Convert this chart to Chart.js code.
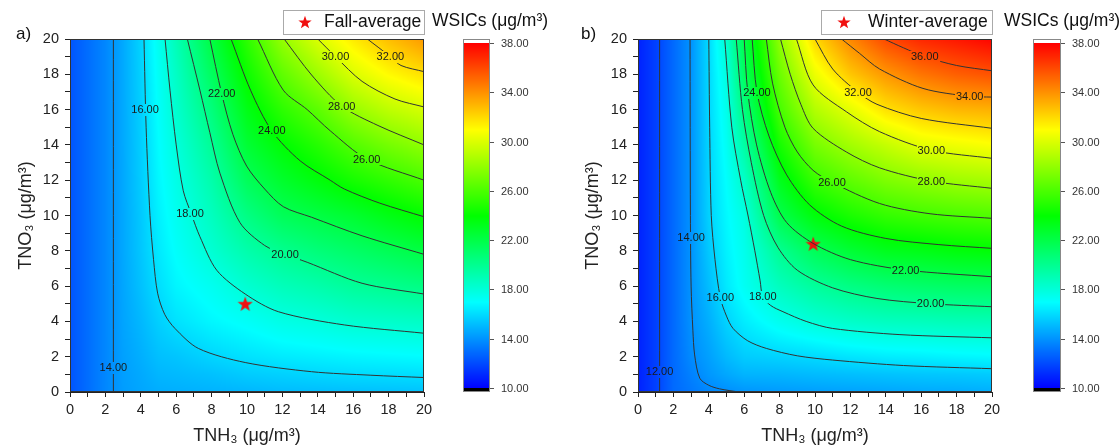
<!DOCTYPE html>
<html>
<head>
<meta charset="utf-8">
<script src="https://cdn.jsdelivr.net/npm/chart.js@4.4.1/dist/chart.umd.min.js"></script>
<style>
  html, body { margin: 0; padding: 0; background: #fff; }
  #wrap { position: relative; width: 1120px; height: 447px; overflow: hidden; }
  .pane { position: absolute; top: 0; width: 560px; height: 447px; }
</style>
</head>
<body>
<div id="wrap">
  <div class="pane" style="left:0"><canvas id="fallChart" width="560" height="447"></canvas></div>
  <div class="pane" style="left:560px"><canvas id="winterChart" width="560" height="447"></canvas></div>
</div>
<script>
var gridX = [0, 1, 2, 3, 4, 5, 6, 8, 10, 12, 14, 16, 18, 20];
var gridY = [0, 1, 2, 4, 6, 8, 10, 12, 14, 16, 18, 20];

// fall: one column per gridX value, values going up gridY
var fallZ = [
  [12.3, 12.3, 12.3, 12.3, 12.3, 12.3, 12.3, 12.3, 12.3, 12.3, 12.3, 12.3],
  [13.0, 13.0, 13.0, 13.0, 13.0, 13.0, 13.0, 13.0, 13.0, 13.0, 13.0, 13.0],
  [13.7, 13.7, 13.7, 13.7, 13.7, 13.7, 13.7, 13.7, 13.7, 13.7, 13.7, 13.7],
  [14.3, 14.35, 14.4, 14.5, 14.55, 14.6, 14.6, 14.62, 14.63, 14.64, 14.65, 14.65],
  [14.55, 14.65, 14.8, 15.05, 15.3, 15.45, 15.5, 15.6, 15.65, 15.7, 15.75, 15.8],
  [14.75, 15.0, 15.25, 15.7, 16.1, 16.4, 16.6, 16.8, 16.95, 17.1, 17.25, 17.4],
  [14.8, 15.1, 15.4, 16.2, 16.75, 17.1, 17.4, 17.65, 17.95, 18.3, 18.6, 19.0],
  [14.9, 15.3, 15.85, 16.8, 17.4, 18.2, 18.75, 19.3, 19.9, 20.6, 21.4, 22.2],
  [15.0, 15.6, 16.2, 17.2, 18.25, 19.3, 20.4, 21.55, 22.55, 23.4, 24.3, 25.2],
  [15.15, 15.75, 16.45, 17.7, 18.9, 20.1, 21.6, 22.8, 23.9, 25.2, 26.6, 28.1],
  [15.2, 15.9, 16.6, 17.95, 19.3, 20.7, 22.15, 23.7, 25.0, 26.5, 28.3, 30.0],
  [15.25, 16.03, 16.75, 18.3, 19.8, 21.2, 22.7, 24.6, 26.25, 28.15, 30.0, 31.55],
  [15.3, 16.08, 16.85, 18.45, 20.1, 21.7, 23.45, 25.3, 27.2, 29.2, 31.1, 32.8],
  [15.35, 16.15, 16.95, 18.6, 20.4, 22.2, 24.05, 26.0, 27.95, 29.85, 31.85, 33.8]
];

var winterZ = [
  [10.9, 10.9, 10.9, 10.9, 10.9, 10.9, 10.9, 10.9, 10.9, 10.9, 10.9, 10.9],
  [11.75, 11.75, 11.75, 11.75, 11.75, 11.75, 11.75, 11.75, 11.75, 11.75, 11.75, 11.75],
  [12.9, 12.9, 12.9, 12.9, 12.9, 12.9, 12.9, 12.9, 12.9, 12.9, 12.9, 12.9],
  [13.3, 13.55, 13.8, 14.0, 14.05, 14.05, 14.05, 14.05, 14.05, 14.05, 14.05, 14.05],
  [13.7, 14.15, 14.4, 14.8, 15.2, 15.5, 15.75, 15.8, 15.85, 15.9, 15.95, 16.0],
  [13.9, 14.6, 15.1, 15.8, 16.4, 16.65, 16.85, 17.05, 17.3, 17.55, 17.85, 18.3],
  [14.1, 14.95, 15.6, 16.5, 17.3, 17.5, 17.8, 18.5, 19.5, 20.5, 21.4, 22.0],
  [14.25, 15.0, 15.8, 17.45, 18.8, 20.0, 21.9, 23.2, 24.55, 25.9, 26.9, 27.9],
  [14.35, 15.15, 16.0, 18.1, 19.75, 21.6, 23.7, 25.55, 27.25, 28.9, 30.5, 32.1],
  [14.45, 15.25, 16.3, 18.5, 20.4, 22.55, 24.7, 26.6, 28.45, 30.3, 32.55, 34.3],
  [14.55, 15.35, 16.5, 18.75, 20.85, 23.2, 25.4, 27.45, 29.4, 31.8, 33.85, 36.0],
  [14.65, 15.45, 16.6, 18.85, 21.1, 23.4, 25.75, 27.95, 30.3, 32.55, 34.8, 36.95],
  [14.7, 15.5, 16.75, 19.0, 21.3, 23.7, 26.0, 28.35, 30.6, 33.0, 35.4, 37.4],
  [14.8, 15.6, 16.85, 19.05, 21.4, 23.85, 26.2, 28.55, 30.9, 33.15, 35.75, 37.9]
];

// contour lines, [TNH3, TNO3]
var fall14 = [[2.45, 0], [2.45, 20]];
var fall16 = [[4.18, 20], [4.3, 15], [4.52, 10], [4.72, 7.5], [4.95, 5.6], [5.35, 4.4], [5.93, 3.6], [7.25, 2.47], [9.9, 1.67], [13.65, 1.15], [17, 0.95], [20, 0.82]];
var fall18 = [[5.37, 20], [5.65, 17.1], [6.0, 14], [6.4, 11.4], [6.85, 10.1], [7.34, 8.8], [8.29, 6.9], [9.9, 5.55], [11.77, 4.55], [15.5, 3.8], [20, 3.33]];
var fall20 = [[6.63, 20], [7.34, 17.1], [7.9, 14.7], [8.47, 12.4], [9.6, 9.6], [11.0, 8.3], [12.15, 7.8], [13.4, 7.35], [16.5, 6.16], [20, 5.55]];
var fall22 = [[7.9, 20], [8.57, 16.9], [9.2, 14.6], [9.98, 12.8], [11.0, 11.5], [12.05, 10.5], [13.65, 9.9], [16.5, 8.85], [20, 7.8]];
var fall24 = [[9.1, 20], [10.2, 17.1], [11.4, 14.8], [13.0, 13.1], [14.7, 12.0], [15.5, 11.5], [17.5, 10.7], [20, 9.93]];
var fall26 = [[10.6, 20], [12.05, 17.1], [13.4, 16.0], [14.7, 14.8], [16.76, 13.2], [20, 12.0]];
var fall28 = [[12.1, 20], [13.65, 17.96], [15.35, 16.2], [17.4, 15.1], [20, 14.0]];
var fall30 = [[14.0, 20], [15.0, 19.0], [16.5, 17.6], [18.36, 16.6], [20, 16.15]];
var fall32 = [[16.8, 20], [18.1, 19.0], [18.7, 18.5], [20, 18.15]];

var win12 = [[1.22, 0], [1.22, 20]];
var win14 = [[2.94, 20], [2.96, 10], [3.0, 6], [3.1, 3.5], [3.2, 2.1], [3.49, 0.78], [4.0, 0.38], [4.6, 0.18], [5.7, 0]];
var win16 = [[4.0, 20], [4.05, 15], [4.14, 10], [4.35, 7.5], [4.65, 5.34], [5.0, 4.3], [5.37, 3.6], [6.2, 2.9], [7.25, 2.47], [9.0, 2.05], [11.0, 1.81], [15.0, 1.5], [20, 1.32]];
var win18 = [[4.9, 20], [5.3, 15], [5.8, 12], [6.21, 10.03], [6.6, 8], [6.9, 6.3], [7.05, 5.4], [7.5, 4.9], [8.19, 4.55], [9.5, 4.0], [11.0, 3.6], [14.8, 3.25], [20, 3.07]];
var win20 = [[5.55, 20], [5.9, 16], [6.4, 13], [7.1, 10], [7.9, 8.2], [9.0, 6.9], [11.0, 5.9], [13.5, 5.3], [16.53, 5.0], [20, 4.83]];
var win22 = [[6.0, 20], [6.2, 17], [6.7, 14], [7.5, 11.3], [8.4, 9.6], [9.89, 8.42], [12.0, 7.5], [15.12, 6.91], [20, 6.53]];
var win24 = [[6.45, 20], [6.72, 17], [7.4, 14.5], [8.4, 12.3], [9.7, 10.6], [11.5, 9.4], [14, 8.7], [17, 8.35], [20, 8.14]];
var win26 = [[7.25, 20], [7.6, 17.5], [8.3, 15], [9.0, 13.6], [9.89, 12.56], [10.96, 11.88], [13.65, 10.68], [16.5, 10.1], [20, 9.84]];
var win28 = [[8.05, 20], [8.6, 18], [9.2, 16.3], [9.89, 14.94], [11.77, 13.6], [13.65, 12.7], [16.57, 11.95], [20, 11.54]];
var win30 = [[8.95, 20], [9.89, 17.4], [11.77, 15.88], [13.65, 14.75], [16.57, 13.7], [20, 13.24]];
var win32 = [[10.0, 20], [11.0, 18.3], [12.43, 16.98], [13.5, 16.3], [16, 15.5], [20, 14.94]];
var win34 = [[11.5, 20], [12.5, 19.2], [13.65, 18.3], [16.1, 17.2], [18.74, 16.75], [20, 16.71]];
var win36 = [[13.9, 20], [15, 19.5], [16.2, 19.0], [18, 18.5], [20, 18.2]];

// contour labels: [level, TNH3, TNO3]
var fallLabels = [[14, 2.45, 1.38], [16, 4.24, 15.98], [18, 6.78, 10.1], [20, 12.15, 7.82], [22, 8.57, 16.9],
  [24, 11.4, 14.8], [26, 16.76, 13.2], [28, 15.35, 16.2], [30, 15.0, 19.0], [32, 18.1, 19.0]];
var winterLabels = [[12, 1.22, 1.15], [14, 3.0, 8.74], [16, 4.65, 5.34], [18, 7.05, 5.4], [20, 16.53, 5.0],
  [22, 15.12, 6.91], [24, 6.72, 16.96], [26, 10.96, 11.88], [28, 16.57, 11.95], [30, 16.57, 13.7],
  [32, 12.43, 16.98], [34, 18.74, 16.75], [36, 16.2, 19.0]];

var fallAvg = [9.9, 5.0];
var winterAvg = [9.9, 8.4];

var colorbarTicks = [10, 14, 18, 22, 26, 30, 34, 38];

var FONT = '"Liberation Sans", Arial, sans-serif';
Chart.defaults.font.family = FONT;

// rainbow map used by the colour scale, 10 -> 38
var cmapStops = [10, 17, 24, 31, 38];
var cmapColors = [[0, 0, 255], [0, 255, 255], [0, 255, 0], [255, 255, 0], [255, 0, 0]];

function colorFor(v) {
  if (v <= cmapStops[0]) return cmapColors[0];
  if (v >= cmapStops[4]) return cmapColors[4];
  var k = 0;
  while (k < 3 && v > cmapStops[k + 1]) k++;
  var t = (v - cmapStops[k]) / (cmapStops[k + 1] - cmapStops[k]);
  var a = cmapColors[k], b = cmapColors[k + 1];
  return [a[0] + (b[0] - a[0]) * t, a[1] + (b[1] - a[1]) * t, a[2] + (b[2] - a[2]) * t];
}

function seg(arr, v) {
  for (var k = 0; k < arr.length - 2; k++) {
    if (v < arr[k + 1]) return k;
  }
  return arr.length - 2;
}

function fieldAt(z, xv, yv) {
  var i = seg(gridX, xv), j = seg(gridY, yv);
  var tx = (xv - gridX[i]) / (gridX[i + 1] - gridX[i]);
  var ty = (yv - gridY[j]) / (gridY[j + 1] - gridY[j]);
  tx = Math.max(0, Math.min(1, tx));
  ty = Math.max(0, Math.min(1, ty));
  return z[i][j] * (1 - tx) * (1 - ty) + z[i + 1][j] * tx * (1 - ty) +
         z[i][j + 1] * (1 - tx) * ty + z[i + 1][j + 1] * tx * ty;
}

function makeStar(size) {
  var c = document.createElement('canvas');
  c.width = c.height = size;
  var g = c.getContext('2d');
  g.fillStyle = '#f01010';
  g.beginPath();
  for (var k = 0; k < 10; k++) {
    var r = (k % 2) ? size * 0.2 : size * 0.5;
    var ang = -Math.PI / 2 + k * Math.PI / 5;
    g.lineTo(size / 2 + r * Math.cos(ang), size / 2 + size * 0.05 + r * Math.sin(ang));
  }
  g.closePath();
  g.fill();
  return c;
}

function panelPlugin(cfg) {
  return {
    id: 'panel',
    beforeDatasetsDraw: function(chart) {
      var ctx = chart.ctx, a = chart.chartArea;
      var xs = chart.scales.x, ys = chart.scales.y;
      if (!chart.$heat) {
        var w = Math.round(a.right - a.left), h = Math.round(a.bottom - a.top);
        var c = document.createElement('canvas');
        c.width = w; c.height = h;
        var g = c.getContext('2d');
        var img = g.createImageData(w, h);
        for (var j = 0; j < h; j++) {
          var yv = ys.getValueForPixel(a.top + j + 0.5);
          for (var i = 0; i < w; i++) {
            var xv = xs.getValueForPixel(a.left + i + 0.5);
            var col = colorFor(fieldAt(cfg.z, xv, yv));
            var k = (j * w + i) * 4;
            img.data[k] = col[0]; img.data[k + 1] = col[1]; img.data[k + 2] = col[2]; img.data[k + 3] = 255;
          }
        }
        g.putImageData(img, 0, 0);
        chart.$heat = c;
      }
      ctx.drawImage(chart.$heat, a.left, a.top);
    },
    afterDatasetsDraw: function(chart) {
      var ctx = chart.ctx, a = chart.chartArea;
      var xs = chart.scales.x, ys = chart.scales.y;
      ctx.save();
      ctx.font = '11px ' + FONT;
      ctx.textAlign = 'center';
      ctx.textBaseline = 'middle';
      cfg.labels.forEach(function(l) {
        var px = xs.getPixelForValue(l[1]), py = ys.getPixelForValue(l[2]);
        var t = l[0].toFixed(2);
        var tw = ctx.measureText(t).width;
        var bx = px - tw / 2 - 1, by = py - 6, bw = tw + 2, bh = 12;
        ctx.drawImage(chart.$heat, bx - a.left, by - a.top, bw, bh, bx, by, bw, bh);
        ctx.fillStyle = '#1a1a1a';
        ctx.fillText(t, px, py + 0.5);
      });
      ctx.restore();
    },
    afterDraw: function(chart) {
      var ctx = chart.ctx, a = chart.chartArea;
      ctx.save();
      // frame
      ctx.strokeStyle = '#333';
      ctx.lineWidth = 1;
      ctx.strokeRect(Math.round(a.left) + 0.5, Math.round(a.top) + 0.5, Math.round(a.right - a.left) - 1, Math.round(a.bottom - a.top) - 1);

      // colour scale
      var cb = cfg.cb;
      for (var py = cb.y38; py < cb.y10; py++) {
        var v = 38 - (py - cb.y38) / (cb.y10 - cb.y38) * 28;
        var col = colorFor(v);
        ctx.fillStyle = 'rgb(' + Math.round(col[0]) + ',' + Math.round(col[1]) + ',' + Math.round(col[2]) + ')';
        ctx.fillRect(cb.left, py, cb.right - cb.left, 1);
      }
      ctx.fillStyle = '#fff';
      ctx.fillRect(cb.left, cb.top, cb.right - cb.left, cb.y38 - cb.top);
      ctx.fillStyle = '#000';
      ctx.fillRect(cb.left, cb.y10, cb.right - cb.left, cb.bottom - cb.y10);
      ctx.strokeStyle = '#888';
      ctx.strokeRect(cb.left + 0.5, cb.top + 0.5, cb.right - cb.left - 1, cb.bottom - cb.top - 1);
      ctx.font = '11px ' + FONT;
      ctx.textAlign = 'left';
      ctx.textBaseline = 'middle';
      colorbarTicks.forEach(function(t) {
        var ty = Math.round(cb.y10 - (t - 10) / 28 * (cb.y10 - cb.y38)) + 0.5;
        ctx.strokeStyle = '#555';
        ctx.beginPath();
        ctx.moveTo(cb.right, ty);
        ctx.lineTo(cb.right + 4, ty);
        ctx.stroke();
        ctx.fillStyle = '#333';
        ctx.fillText(t.toFixed(2), cb.right + 11, ty);
      });

      // scale title
      ctx.font = '17.5px ' + FONT;
      ctx.fillStyle = '#111';
      ctx.fillText('WSICs (μg/m³)', cfg.titleX, 21);

      // legend box
      var lg = cfg.legend;
      ctx.fillStyle = '#fff';
      ctx.fillRect(lg.x, lg.y, lg.w, lg.h);
      ctx.strokeStyle = '#aaa';
      ctx.strokeRect(lg.x + 0.5, lg.y + 0.5, lg.w, lg.h);
      ctx.drawImage(cfg.legendStar, lg.starX - 7, lg.y + lg.h / 2 - 7);
      ctx.fillStyle = '#111';
      ctx.font = '17.5px ' + FONT;
      ctx.fillText(cfg.legendText, lg.textX, lg.y + lg.h / 2 + 0.5);

      // panel tag
      ctx.font = '17px ' + FONT;
      ctx.fillText(cfg.tag, cfg.tagX, 34);
      ctx.restore();
    }
  };
}

function makePanel(id, cfg) {
  var lines = cfg.lines.map(function(pts) {
    return {
      data: pts.map(function(p) { return { x: p[0], y: p[1] }; }),
      showLine: true,
      borderColor: '#333',
      borderWidth: 1,
      pointRadius: 0,
      tension: 0.3,
      fill: false
    };
  });
  lines.push({
    data: [{ x: cfg.avg[0], y: cfg.avg[1] }],
    showLine: false,
    pointStyle: cfg.star,
    pointRadius: 8
  });

  return new Chart(document.getElementById(id), {
    type: 'scatter',
    data: { datasets: lines },
    options: {
      responsive: false,
      animation: false,
      devicePixelRatio: 1,
      events: [],
      layout: { padding: { left: 0, top: 39, right: cfg.padRight, bottom: 0 } },
      plugins: { legend: { display: false }, tooltip: { enabled: false } },
      scales: {
        x: {
          type: 'linear', min: 0, max: 20, position: 'bottom',
          ticks: {
            stepSize: 1, autoSkip: false, maxRotation: 0, padding: 4,
            color: '#222', font: { size: 14.5 },
            callback: function(v) { return v % 2 === 0 ? v : ''; }
          },
          grid: { drawOnChartArea: false, drawTicks: true, tickLength: 5, color: '#222' },
          border: { display: true, color: '#222', width: 1 },
          title: { display: true, text: 'TNH₃ (μg/m³)', color: '#222', font: { size: 18 }, padding: { top: 0, bottom: 0 } },
          afterFit: function(s) { s.height = 55; }
        },
        y: {
          type: 'linear', min: 0, max: 20, position: 'left',
          ticks: {
            stepSize: 1, autoSkip: false, padding: 6,
            color: '#222', font: { size: 14.5 },
            callback: function(v) { return v % 2 === 0 ? v : ''; }
          },
          grid: { drawOnChartArea: false, drawTicks: true, tickLength: 5, color: '#222' },
          border: { display: true, color: '#222', width: 1 },
          title: { display: true, text: 'TNO₃ (μg/m³)', color: '#222', font: { size: 18 }, padding: { top: cfg.yTitlePad, bottom: 0 } },
          afterFit: function(s) { s.width = cfg.yWidth; }
        }
      }
    },
    plugins: [panelPlugin(cfg)]
  });
}

var starBig = makeStar(16);
var starSmall = makeStar(14);

makePanel('fallChart', {
  z: fallZ,
  lines: [fall14, fall16, fall18, fall20, fall22, fall24, fall26, fall28, fall30, fall32],
  labels: fallLabels,
  avg: fallAvg,
  star: starBig,
  legendStar: starSmall,
  legendText: 'Fall-average',
  legend: { x: 283, y: 10, w: 141, h: 24, starX: 305, textX: 324 },
  cb: { left: 463, right: 490, top: 39, y38: 43, y10: 388, bottom: 392 },
  titleX: 432,
  tag: 'a)', tagX: 16,
  padRight: 136, yWidth: 70, yTitlePad: 15
});

makePanel('winterChart', {
  z: winterZ,
  lines: [win12, win14, win16, win18, win20, win22, win24, win26, win28, win30, win32, win34, win36],
  labels: winterLabels,
  avg: winterAvg,
  star: starBig,
  legendStar: starSmall,
  legendText: 'Winter-average',
  legend: { x: 261, y: 10, w: 171, h: 24, starX: 284, textX: 308 },
  cb: { left: 473, right: 501, top: 39, y38: 43, y10: 388, bottom: 392 },
  titleX: 444,
  tag: 'b)', tagX: 21,
  padRight: 128, yWidth: 78, yTitlePad: 22
});
</script>
</body>
</html>
